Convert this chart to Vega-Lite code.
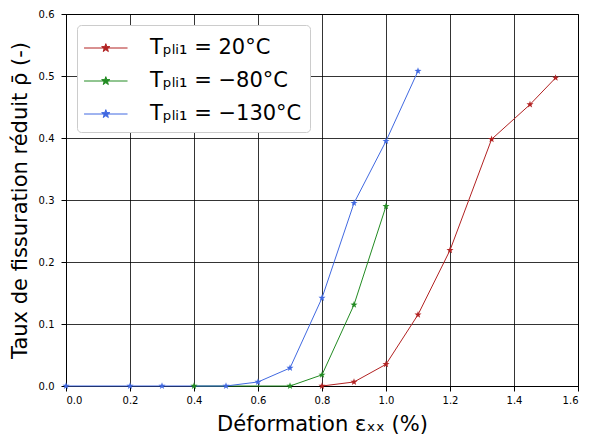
{
  "$schema": "https://vega.github.io/schema/vega-lite/v6.json",
  "width": 512,
  "height": 372,
  "autosize": {"type": "none"},
  "padding": {"left": 66, "top": 14, "right": 12, "bottom": 51},
  "background": "white",
  "config": {
    "font": "DejaVu Sans",
    "view": {"stroke": "black", "strokeWidth": 1},
    "axis": {
      "grid": true, "gridColor": "black", "gridOpacity": 1, "gridWidth": 0.8,
      "domainColor": "black", "tickColor": "black", "tickSize": 5,
      "labelFontSize": 10, "labelColor": "black", "labelFont": "DejaVu Sans",
      "titleFontSize": 21, "titleFontWeight": "normal", "titleColor": "black", "titleFont": "DejaVu Sans"
    }
  },
  "data": {
    "values": [
      {"eps": 0.8, "rho": 0.0, "serie": "Tₚₗᵢ₁ = 20°C"},
      {"eps": 0.9, "rho": 0.0065, "serie": "Tₚₗᵢ₁ = 20°C"},
      {"eps": 1.0, "rho": 0.035, "serie": "Tₚₗᵢ₁ = 20°C"},
      {"eps": 1.1, "rho": 0.115, "serie": "Tₚₗᵢ₁ = 20°C"},
      {"eps": 1.2, "rho": 0.219, "serie": "Tₚₗᵢ₁ = 20°C"},
      {"eps": 1.33, "rho": 0.398, "serie": "Tₚₗᵢ₁ = 20°C"},
      {"eps": 1.45, "rho": 0.454, "serie": "Tₚₗᵢ₁ = 20°C"},
      {"eps": 1.53, "rho": 0.497, "serie": "Tₚₗᵢ₁ = 20°C"},
      {"eps": 0.4, "rho": 0.0, "serie": "Tₚₗᵢ₁ = −80°C"},
      {"eps": 0.7, "rho": 0.0, "serie": "Tₚₗᵢ₁ = −80°C"},
      {"eps": 0.8, "rho": 0.018, "serie": "Tₚₗᵢ₁ = −80°C"},
      {"eps": 0.9, "rho": 0.131, "serie": "Tₚₗᵢ₁ = −80°C"},
      {"eps": 1.0, "rho": 0.29, "serie": "Tₚₗᵢ₁ = −80°C"},
      {"eps": 0.0, "rho": 0.0, "serie": "Tₚₗᵢ₁ = −130°C"},
      {"eps": 0.2, "rho": 0.0, "serie": "Tₚₗᵢ₁ = −130°C"},
      {"eps": 0.3, "rho": 0.0, "serie": "Tₚₗᵢ₁ = −130°C"},
      {"eps": 0.5, "rho": 0.0, "serie": "Tₚₗᵢ₁ = −130°C"},
      {"eps": 0.6, "rho": 0.0065, "serie": "Tₚₗᵢ₁ = −130°C"},
      {"eps": 0.7, "rho": 0.029, "serie": "Tₚₗᵢ₁ = −130°C"},
      {"eps": 0.8, "rho": 0.142, "serie": "Tₚₗᵢ₁ = −130°C"},
      {"eps": 0.9, "rho": 0.295, "serie": "Tₚₗᵢ₁ = −130°C"},
      {"eps": 1.0, "rho": 0.395, "serie": "Tₚₗᵢ₁ = −130°C"},
      {"eps": 1.1, "rho": 0.508, "serie": "Tₚₗᵢ₁ = −130°C"}
    ]
  },
  "encoding": {
    "x": {
      "field": "eps", "type": "quantitative",
      "scale": {"domain": [0, 1.6], "nice": false, "zero": false},
      "axis": {"values": [0, 0.2, 0.4, 0.6, 0.8, 1.0, 1.2, 1.4, 1.6], "format": ".1f", "title": "Déformation εₓₓ (%)", "labelPadding": 4.5, "titlePadding": 8}
    },
    "y": {
      "field": "rho", "type": "quantitative",
      "scale": {"domain": [0, 0.6], "nice": false},
      "axis": {"values": [0, 0.1, 0.2, 0.3, 0.4, 0.5, 0.6], "format": ".1f", "title": "Taux de fissuration réduit ρ̄ (-)", "labelPadding": 7, "titlePadding": 8}
    },
    "color": {
      "field": "serie", "type": "nominal",
      "sort": ["Tₚₗᵢ₁ = 20°C", "Tₚₗᵢ₁ = −80°C", "Tₚₗᵢ₁ = −130°C"],
      "scale": {"domain": ["Tₚₗᵢ₁ = 20°C", "Tₚₗᵢ₁ = −80°C", "Tₚₗᵢ₁ = −130°C"], "range": ["#b22222", "#228b22", "#4169e1"]},
      "legend": {
        "title": null, "orient": "none", "legendX": 11, "legendY": 11,
        "fillColor": "white", "strokeColor": "#cccccc", "cornerRadius": 4, "padding": 8,
        "symbolType": "M-1.1,0H1.9M0.4,-0.3L0.471,-0.097L0.685,-0.093L0.514,0.037L0.576,0.243L0.4,0.12L0.224,0.243L0.286,0.037L0.115,-0.093L0.329,-0.097Z",
        "symbolSize": 840, "symbolStrokeWidth": 1,
        "labelFontSize": 21, "labelFont": "DejaVu Sans", "labelColor": "black", "labelOffset": 35,
        "rowPadding": 8, "labelLimit": 300
      }
    }
  },
  "layer": [
    {"mark": {"type": "line", "strokeWidth": 1, "clip": false}},
    {"mark": {"type": "point", "shape": "M0,-1L0.235,-0.324L0.951,-0.309L0.38,0.124L0.588,0.809L0,0.4L-0.588,0.809L-0.38,0.124L-0.951,-0.309L-0.235,-0.324Z", "filled": true, "size": 55, "opacity": 1, "clip": false}}
  ]
}
